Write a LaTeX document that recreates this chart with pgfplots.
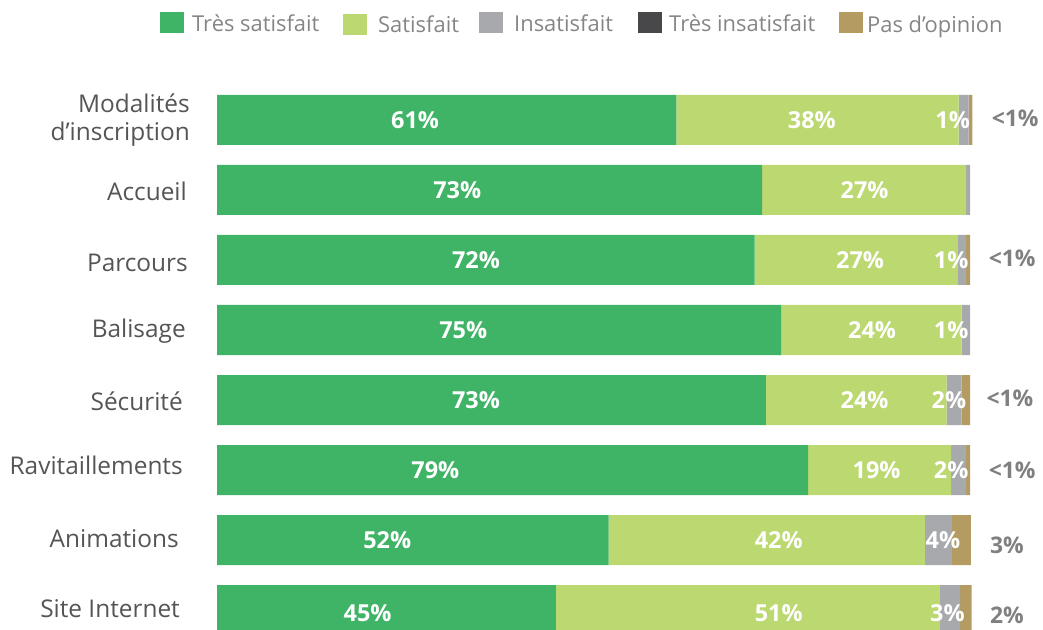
\documentclass[border=0pt]{standalone}
\usepackage{fontspec}
\setmainfont{Open Sans}
\usepackage{pgfplots}
\pgfplotsset{compat=1.18}
\definecolor{cTS}{HTML}{40B466}
\definecolor{cS}{HTML}{BCD870}
\definecolor{cI}{HTML}{A8A9AD}
\definecolor{cTI}{HTML}{48484A}
\definecolor{cP}{HTML}{B39B62}
\definecolor{catcol}{HTML}{555555}
\definecolor{outcol}{HTML}{808080}
\definecolor{legcol}{HTML}{858585}
\tikzset{
  inlbl/.style={font=\fontsize{23.5}{28}\selectfont\bfseries, text=white, anchor=center},
  outlbl/.style={font=\fontsize{23}{27}\selectfont\bfseries, text=outcol, anchor=center},
  catlbl/.style={font=\fontsize{24.5}{29}\selectfont, text=catcol, anchor=base east, inner sep=0pt},
}
\begin{document}
\begin{tikzpicture}[x=1bp,y=1bp]
\useasboundingbox (0,0) rectangle (1043,630);
\begin{axis}[
  at={(0,0)}, anchor=south west,
  scale only axis, width=1043bp, height=630bp,
  xmin=-28.818, xmax=109.695,
  ymin=-1.7143, ymax=7.2857, y dir=reverse,
  axis lines=none, clip=false,
  xtick=\empty, ytick=\empty,
  xbar stacked, bar width=50bp,
]
\addplot[fill=cTS, draw=none] coordinates {(61,0) (72.4,1) (71.4,2) (74.9,3) (72.9,4) (78.5,5) (52,6) (45,7)};
\addplot[fill=cS, draw=none] coordinates {(37.5,0) (27.1,1) (27,2) (24,3) (24,4) (19,5) (42,6) (51,7)};
\addplot[fill=cI, draw=none] coordinates {(1.3,0) (0.5,1) (1.1,2) (1.1,3) (2,4) (2,5) (3.6,6) (2.7,7)};
\addplot[fill=cTI, draw=none] coordinates {(0,0) (0,1) (0,2) (0,3) (0,4) (0,5) (0,6) (0,7)};
\addplot[fill=cP, draw=none] coordinates {(0.5,0) (0,1) (0.5,2) (0,3) (1.1,4) (0.5,5) (2.5,6) (1.5,7)};

% category labels
\node[catlbl] at (axis cs:-3.59,-0.1) {Modalités};
\node[catlbl] at (axis cs:-3.59,0.286) {d’inscription};
\node[catlbl] at (axis cs:-3.98,1.143) {Accueil};
\node[catlbl] at (axis cs:-3.85,2.171) {Parcours};
\node[catlbl] at (axis cs:-4.12,3.1) {Balisage};
\node[catlbl] at (axis cs:-4.52,4.143) {Sécurité};
\node[catlbl] at (axis cs:-4.52,5.071) {Ravitaillements};
\node[catlbl] at (axis cs:-5.05,6.114) {Animations};
\node[catlbl] at (axis cs:-4.91,7.114) {Site Internet};

% positions of in-bar labels
\coordinate (a1) at (axis cs:26.3,0);
\coordinate (a2) at (axis cs:79,0);
\coordinate (a3) at (axis cs:97.7,0);
\coordinate (b1) at (axis cs:31.9,1);
\coordinate (b2) at (axis cs:86,1);
\coordinate (c1) at (axis cs:34.4,2);
\coordinate (c2) at (axis cs:85.4,2);
\coordinate (c3) at (axis cs:97.5,2);
\coordinate (d1) at (axis cs:32.7,3);
\coordinate (d2) at (axis cs:87,3);
\coordinate (d3) at (axis cs:97.5,3);
\coordinate (e1) at (axis cs:34.4,4);
\coordinate (e2) at (axis cs:86,4);
\coordinate (e3) at (axis cs:97.2,4);
\coordinate (f1) at (axis cs:29,5);
\coordinate (f2) at (axis cs:87.6,5);
\coordinate (f3) at (axis cs:97.5,5);
\coordinate (g1) at (axis cs:22.6,6);
\coordinate (g2) at (axis cs:74.6,6);
\coordinate (g3) at (axis cs:96.4,6);
\coordinate (h1) at (axis cs:20,7.04);
\coordinate (h2) at (axis cs:74.6,7.04);
\coordinate (h3) at (axis cs:97,7.04);

% outside labels
\node[outlbl] at (axis cs:106,-0.03) {<1\%};
\node[outlbl] at (axis cs:105.6,1.97) {<1\%};
\node[outlbl] at (axis cs:105.3,3.97) {<1\%};
\node[outlbl] at (axis cs:105.6,5.0) {<1\%};
\node[outlbl] at (axis cs:104.9,6.07) {3\%};
\node[outlbl] at (axis cs:104.9,7.08) {2\%};
\end{axis}

\node[inlbl] at (a1) {61\%};
\node[inlbl] at (a2) {38\%};
\node[inlbl] at (a3) {1\%};
\node[inlbl] at (b1) {73\%};
\node[inlbl] at (b2) {27\%};
\node[inlbl] at (c1) {72\%};
\node[inlbl] at (c2) {27\%};
\node[inlbl] at (c3) {1\%};
\node[inlbl] at (d1) {75\%};
\node[inlbl] at (d2) {24\%};
\node[inlbl] at (d3) {1\%};
\node[inlbl] at (e1) {73\%};
\node[inlbl] at (e2) {24\%};
\node[inlbl] at (e3) {2\%};
\node[inlbl] at (f1) {79\%};
\node[inlbl] at (f2) {19\%};
\node[inlbl] at (f3) {2\%};
\node[inlbl] at (g1) {52\%};
\node[inlbl] at (g2) {42\%};
\node[inlbl] at (g3) {4\%};
\node[inlbl] at (h1) {45\%};
\node[inlbl] at (h2) {51\%};
\node[inlbl] at (h3) {3\%};

% legend
\begin{scope}[every node/.style={font=\fontsize{22}{26}\selectfont, text=legcol, anchor=base west, inner sep=0pt}]
\fill[cTS] (160,597) rectangle (184,618);
\node at (192,598) {Très satisfait};
\fill[cS] (343,595) rectangle (367,616);
\node at (378,597) {Satisfait};
\fill[cI] (479,597) rectangle (503,618);
\node at (514,598) {Insatisfait};
\fill[cTI] (638,597) rectangle (662,618);
\node at (669,598) {Très insatisfait};
\fill[cP] (839,597) rectangle (863,618);
\node at (867,597) {Pas d’opinion};
\end{scope}
\end{tikzpicture}
\end{document}
